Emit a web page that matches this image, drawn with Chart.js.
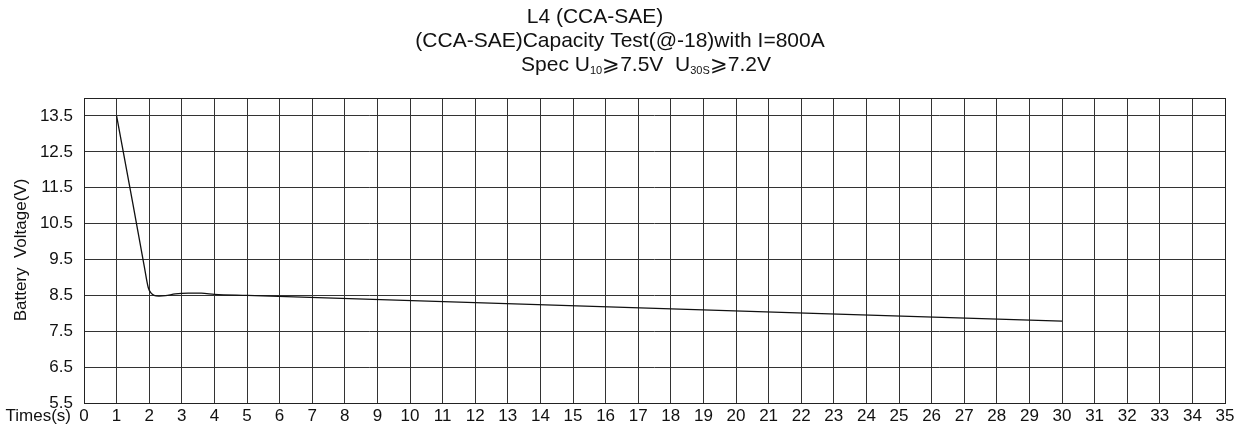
<!DOCTYPE html>
<html>
<head>
<meta charset="utf-8">
<script src="https://cdn.jsdelivr.net/npm/chart.js@4"></script>
<style>
html,body{margin:0;padding:0;background:#fff;}
#wrap{width:1239px;height:428px;position:relative;}
</style>
</head>
<body>
<div id="wrap"><canvas id="c" width="1239" height="428"></canvas></div>
<script>
// ---- data ----
const times = [1, 1.5, 1.85, 1.97, 2.06, 2.15, 2.3, 2.5, 2.8, 3.2, 3.6, 4, 5, 30];
const voltages = [13.5, 11.05, 9.3, 8.72, 8.56, 8.5, 8.48, 8.49, 8.54, 8.56, 8.56, 8.53, 8.5, 7.78];
const yTickValues = [5.5, 6.5, 7.5, 8.5, 9.5, 10.5, 11.5, 12.5, 13.5];
const titleLine1 = "L4 (CCA-SAE)";
const titleLine2 = "(CCA-SAE)Capacity Test(@-18)with I=800A";
const specParts = [["Spec U", false], ["10", true], ["\u2A7E7.5V  U", false], ["30S", true], ["\u2A7E7.2V", false]];
const yTitle = "Battery  Voltage(V)";
const xTitle = "Times(s)";

const FONT = "'Liberation Sans', Arial, sans-serif";

const decor = {
  id: 'decor',
  afterDraw(chart) {
    const ctx = chart.ctx, a = chart.chartArea;
    ctx.save();
    ctx.strokeStyle = '#222';
    ctx.lineWidth = 1;
    ctx.strokeRect(Math.round(a.left) + 0.5, Math.round(a.top) + 0.5, Math.round(a.right - a.left), Math.round(a.bottom - a.top));
    ctx.fillStyle = '#111';
    ctx.textBaseline = 'middle';
    ctx.textAlign = 'center';
    ctx.font = '21px ' + FONT;
    ctx.fillText(titleLine1, 595, 17);
    ctx.fillText(titleLine2, 620, 41);
    // line 3 with subscripts
    let total = 0;
    const widths = specParts.map(([t, sub]) => {
      ctx.font = (sub ? '11px ' : '21px ') + FONT;
      const w = ctx.measureText(t).width;
      total += w;
      return w;
    });
    let x = 646 - total / 2;
    ctx.textAlign = 'left';
    specParts.forEach(([t, sub], i) => {
      ctx.font = (sub ? '11px ' : '21px ') + FONT;
      ctx.fillText(t, x, sub ? 71 : 65);
      x += widths[i];
    });
    // axis titles
    ctx.font = '17px ' + FONT;
    ctx.textAlign = 'right';
    ctx.fillText(xTitle, 71, 416);
    ctx.save();
    ctx.translate(21, 250);
    ctx.rotate(-Math.PI / 2);
    ctx.textAlign = 'center';
    ctx.font = '17px ' + FONT;
    ctx.fillText(yTitle, 0, 0);
    ctx.restore();
    ctx.restore();
  }
};

new Chart(document.getElementById('c'), {
  type: 'line',
  data: {
    datasets: [{
      data: times.map((t, i) => ({ x: t, y: voltages[i] })),
      borderColor: '#111',
      borderWidth: 1.3,
      pointRadius: 0,
      cubicInterpolationMode: 'monotone',
      fill: false
    }]
  },
  options: {
    responsive: false,
    animation: false,
    devicePixelRatio: 1,
    layout: { padding: { left: 0, right: 14, top: 98, bottom: 0 } },
    plugins: { legend: { display: false }, title: { display: false }, tooltip: { enabled: false } },
    scales: {
      x: {
        type: 'linear', min: 0, max: 35,
        afterFit(s) { s.height = 25; },
        ticks: { stepSize: 1, color: '#111', font: { size: 17, family: FONT }, padding: 3, maxRotation: 0, autoSkip: false },
        grid: { color: '#333', lineWidth: 1, drawTicks: false },
        border: { display: false }
      },
      y: {
        type: 'linear', min: 5.5, max: 14,
        afterFit(s) { s.width = 84; },
        afterBuildTicks(s) { s.ticks = yTickValues.map(v => ({ value: v })); },
        ticks: { color: '#111', font: { size: 17, family: FONT }, padding: 11, callback: v => Number(v).toFixed(1) },
        grid: { color: '#333', lineWidth: 1, drawTicks: false },
        border: { display: false }
      }
    }
  },
  plugins: [decor]
});
</script>
</body>
</html>
